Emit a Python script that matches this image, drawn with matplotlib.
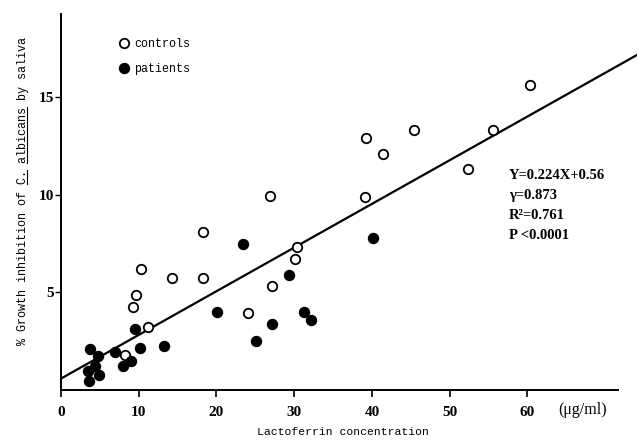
import numpy as np
import matplotlib.pyplot as plt
from matplotlib.lines import Line2D

# values
controls_x = [60.3, 45.4, 55.6, 39.3, 41.4, 52.3, 39.1, 26.9, 18.3, 30.3,
              30.1, 10.3, 14.3, 18.3, 27.2, 9.7, 9.2, 24.1, 11.2, 8.2]
controls_y = [15.6, 13.3, 13.3, 12.9, 12.1, 11.3, 9.85, 9.9, 8.1, 7.3,
              6.7, 6.2, 5.7, 5.7, 5.3, 4.85, 4.25, 3.9, 3.2, 1.75]
patients_x = [40.1, 23.4, 29.3, 20.1, 31.2, 32.2, 27.1, 25.1, 9.5, 10.2,
              13.2, 3.7, 7.0, 4.8, 9.0, 8.0, 4.4, 3.5, 4.9, 3.6]
patients_y = [7.75, 7.45, 5.85, 3.95, 4.0, 3.55, 3.35, 2.5, 3.1, 2.15,
              2.25, 2.1, 1.9, 1.7, 1.45, 1.2, 1.2, 0.95, 0.75, 0.45]

slope = 0.224
intercept = 0.56
stats_lines = ["Y=0.224X+0.56", "\u03b3=0.873", "R\u00b2=0.761", "P <0.0001"]

xticks = [0, 10, 20, 30, 40, 50, 60]
yticks = [5, 10, 15]

ylabel_text = "% Growth inhibition of C. albicans by saliva"
underlined = ["C.", "albicans"]

mono = "Liberation Mono"
serif = "Liberation Serif"

fig = plt.figure(figsize=(6.39, 4.41), dpi=100)
ax = fig.add_axes([61 / 639, 51.5 / 441, 576 / 639, 375.5 / 441])

ax.set_xlim(0, 74.1)
ax.set_ylim(0, 19.26)

# regression line
line_x = np.array([0, 74.1])
ax.plot(line_x, slope * line_x + intercept, color="black", lw=1.6, zorder=2)

ax.plot(controls_x, controls_y, "o", ms=6.8, mfc="white", mec="black",
        mew=1.3, label="controls", zorder=3, linestyle="none")
ax.plot(patients_x, patients_y, "o", ms=7.2, mfc="black", mec="black",
        label="patients", zorder=3, linestyle="none")

for s in ["top", "right"]:
    ax.spines[s].set_visible(False)
ax.spines["bottom"].set_bounds(0, 71.6)
ax.spines["left"].set_linewidth(1.4)
ax.spines["bottom"].set_linewidth(1.4)

ax.set_xticks(xticks)
ax.set_yticks(yticks)
ax.tick_params(axis="x", direction="out", length=5, width=1.2, pad=7)
ax.tick_params(axis="y", direction="out", length=4, width=1.0, pad=1)
for lab in ax.get_xticklabels() + ax.get_yticklabels():
    lab.set_fontfamily(serif)
    lab.set_fontweight("bold")
    lab.set_fontsize(11)

ax.set_xlabel("Lactoferrin concentration", fontfamily=mono, fontsize=8.2)
ax.xaxis.set_label_coords(0.49, -0.1)
ylab = ax.set_ylabel(ylabel_text, fontfamily=mono, fontsize=8.5)
ax.yaxis.set_label_coords(-0.056, 0.529)

ax.text(0.906, -0.0546, "(\u03bcg/ml)", transform=ax.transAxes,
        fontfamily=serif, fontsize=11.5, ha="center", va="center")

for i, s in enumerate(stats_lines):
    ax.text(0.778, 0.5686 - i * 0.0524, s, transform=ax.transAxes,
            fontfamily=serif, fontsize=10.5, fontweight="bold",
            ha="left", va="center")

ax.legend(loc="upper left", bbox_to_anchor=(0.099, 0.937), frameon=False,
          prop={"family": mono, "size": 8.4}, handlelength=1.0,
          handletextpad=0.4, labelspacing=1.15, borderpad=0, borderaxespad=0)

# underline the species name (mathtext has no \underline)
fig.canvas.draw()
bb = ylab.get_window_extent()
step = bb.height / len(ylabel_text)
W, H = fig.bbox.width, fig.bbox.height
for word in underlined:
    i = ylabel_text.index(word)
    y0 = bb.y0 + i * step
    y1 = y0 + len(word) * step
    xu = bb.x1 - 1.5
    fig.add_artist(Line2D([xu / W, xu / W], [y0 / H, y1 / H],
                          transform=fig.transFigure, color="black", lw=0.8))

fig.savefig("out.png", dpi=100)
